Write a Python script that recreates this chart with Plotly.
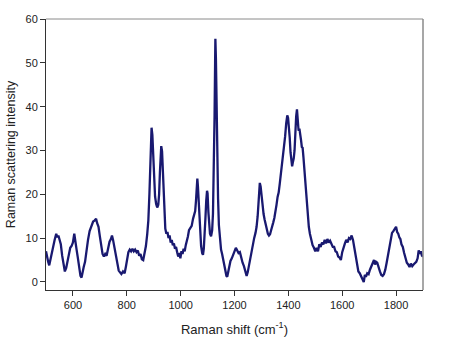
import plotly.graph_objects as go

# Raman spectrum: shift (cm^-1) and scattering intensity
shift_cm = [
    500, 504, 508, 512, 516, 520, 526, 532, 538, 542, 546, 550, 555, 560, 565, 570, 575, 580, 585, 590,
    595, 600, 605, 609, 614, 618, 623, 628, 632, 636, 640, 645, 650, 656, 662, 668, 675, 680, 686, 690,
    695, 700, 705, 710, 715, 720, 725, 730, 736, 741, 745, 749, 754, 760, 765, 770, 775, 780, 786, 792,
    797, 802, 806, 811, 816, 821, 826, 831, 836, 841, 846, 851, 856, 861, 866, 871, 876, 880, 884, 887,
    890, 892, 895, 898, 901, 905, 909, 913, 917, 920, 923, 926, 928, 931, 934, 937, 940, 943, 947, 951,
    955, 959, 963, 967, 971, 975, 979, 983, 987, 991, 995, 999, 1003, 1007, 1011, 1015, 1019, 1023, 1027, 1031,
    1036, 1041, 1046, 1050, 1054, 1057, 1060, 1062, 1064, 1067, 1070, 1073, 1076, 1080, 1083, 1086, 1089, 1092, 1095, 1098,
    1100, 1103, 1106, 1109, 1113, 1117, 1120, 1123, 1126, 1128, 1129, 1131, 1133, 1136, 1139, 1142, 1146, 1150, 1154, 1158,
    1162, 1166, 1170, 1173, 1177, 1181, 1185, 1190, 1195, 1200, 1205, 1210, 1215, 1220, 1225, 1230, 1235, 1240, 1245, 1249,
    1253, 1258, 1263, 1268, 1273, 1278, 1282, 1286, 1290, 1294, 1297, 1300, 1304, 1308, 1312, 1316, 1320, 1324, 1328, 1332,
    1336, 1340, 1344, 1348, 1352, 1356, 1360, 1364, 1368, 1372, 1376, 1380, 1384, 1388, 1392, 1396, 1399, 1402, 1405, 1408,
    1411, 1414, 1417, 1420, 1423, 1426, 1429, 1432, 1435, 1438, 1441, 1444, 1447, 1450, 1453, 1456, 1460, 1464, 1468, 1472,
    1476, 1480, 1485, 1490, 1495, 1500, 1505, 1510, 1515, 1520, 1525, 1530, 1535, 1540, 1545, 1550, 1555, 1560, 1565, 1570,
    1575, 1580, 1585, 1590, 1595, 1600, 1605, 1610, 1615, 1620, 1625, 1630, 1635, 1640, 1645, 1650, 1655, 1660, 1665, 1670,
    1675, 1680, 1684, 1688, 1693, 1698, 1703, 1708, 1713, 1718, 1722, 1726, 1730, 1735, 1740, 1745, 1750, 1755, 1760, 1765,
    1770, 1775, 1780, 1785, 1790, 1795, 1800, 1804, 1808, 1812, 1816, 1820, 1825, 1830, 1835, 1840, 1845, 1850, 1855, 1860,
    1865, 1870, 1875, 1880, 1884, 1888, 1892, 1896, 1900,
]

intensity = [
    7.0, 5.2, 4.6, 3.8, 5.0, 6.5, 8.4, 9.6, 11.0, 10.2, 10.6, 9.4, 8.6, 6.0, 3.8, 2.4, 3.2, 4.8, 6.6, 7.8,
    8.2, 9.0, 11.0, 8.8, 7.2, 5.6, 3.4, 1.4, 1.0, 2.6, 3.4, 4.6, 7.2, 9.6, 11.6, 12.8, 13.8, 14.0, 14.4, 13.4,
    12.6, 10.4, 8.2, 6.4, 5.8, 6.4, 6.0, 7.6, 9.2, 9.8, 10.6, 9.6, 8.0, 6.2, 4.2, 2.6, 2.2, 1.8, 2.4, 2.0,
    3.6, 5.6, 6.8, 7.4, 7.0, 7.6, 7.0, 7.4, 6.8, 7.2, 6.0, 6.4, 5.2, 5.0, 6.4, 8.2, 11.0, 14.0, 20.0, 27.0,
    33.0, 35.2, 33.5, 28.0, 22.5, 19.5, 17.8, 17.0, 17.6, 20.0, 25.0, 29.5, 31.0, 29.8, 25.5, 19.0, 14.5, 12.2, 11.0, 11.4,
    10.0, 10.6, 9.0, 9.6, 8.4, 8.8, 7.6, 8.0, 6.8, 5.8, 6.6, 5.4, 7.0, 6.4, 7.6, 7.0, 8.4, 9.2, 10.4, 11.8,
    12.2, 12.8, 14.4, 15.6, 16.2, 18.5, 21.5, 23.6, 22.0, 18.5, 14.0, 10.5, 8.2, 6.6, 6.2, 7.6, 10.2, 14.5, 18.5, 20.8,
    20.2, 16.0, 12.5, 11.0, 10.4, 11.8, 15.5, 24.0, 38.0, 50.0, 55.5, 51.0, 41.0, 28.0, 19.0, 13.0, 9.6, 7.4, 6.4, 5.0,
    4.4, 3.0, 1.4, 1.2, 2.6, 3.4, 4.8, 5.4, 6.4, 7.0, 7.8, 7.2, 6.6, 6.8, 5.4, 4.4, 3.6, 2.4, 1.4, 2.2,
    3.6, 5.2, 7.0, 8.6, 10.0, 11.2, 12.6, 15.0, 18.5, 22.6, 21.8, 19.8, 17.0, 15.5, 14.2, 13.0, 12.0, 11.0, 10.6, 10.9,
    11.8, 12.5, 13.6, 14.6, 15.8, 17.6, 19.4, 20.4, 22.4, 24.4, 26.0, 28.0, 30.2, 33.2, 36.2, 38.0, 37.4, 35.8, 33.0, 29.6,
    27.6, 26.4, 27.4, 28.2, 30.0, 34.6, 37.8, 39.4, 37.0, 34.5, 35.0, 32.6, 32.4, 30.8, 30.6, 28.5, 25.0, 22.0, 18.5, 15.2,
    12.6, 11.0, 9.6, 8.4, 7.8, 7.0, 7.8, 7.0, 8.6, 8.0, 9.0, 8.6, 9.6, 8.8, 9.8, 9.0, 9.4, 8.6, 8.0, 8.0,
    7.0, 6.8, 5.8, 5.6, 5.0, 6.8, 8.0, 8.8, 9.6, 9.0, 10.0, 9.8, 10.6, 9.6, 7.8, 5.6, 3.8, 2.4, 2.0, 1.4,
    0.8, 0.0, 1.6, 1.2, 2.0, 1.8, 2.8, 3.6, 4.6, 5.0, 4.0, 4.6, 4.4, 3.0, 2.4, 1.6, 1.4, 1.8, 2.8, 4.4,
    6.0, 7.6, 9.6, 11.2, 11.6, 12.2, 12.6, 11.4, 11.0, 10.2, 9.8, 8.6, 8.0, 6.6, 5.2, 4.4, 4.0, 3.4, 4.2, 3.6,
    4.0, 4.4, 4.6, 5.4, 7.2, 6.4, 7.0, 6.0, 5.8,
]

x_ticks = [600, 800, 1000, 1200, 1400, 1600, 1800]
y_ticks = [0, 10, 20, 30, 40, 50, 60]

line_color = "#191970"
font_family = "Liberation Sans, Arial, sans-serif"

fig = go.Figure()
fig.add_trace(go.Scatter(
    x=shift_cm, y=intensity, mode="lines",
    line=dict(color=line_color, width=2.3),
    showlegend=False, hoverinfo="skip",
))

# Gray frame on top and right edges of the plotting area
fig.add_shape(type="line", xref="paper", yref="paper", x0=0, x1=1, y0=1, y1=1,
              line=dict(color="#8a8a8a", width=1))
fig.add_shape(type="line", xref="paper", yref="paper", x0=1, x1=1, y0=0, y1=1,
              line=dict(color="#8a8a8a", width=1.5))

fig.update_layout(
    width=453, height=349,
    margin=dict(l=46, r=30, t=19, b=59),
    paper_bgcolor="white", plot_bgcolor="white",
    font=dict(family=font_family, size=11, color="#222222"),
    xaxis=dict(
        range=[500, 1900], tickvals=x_ticks, ticks="outside", ticklen=5, tickcolor="#333333",
        showline=True, linecolor="#333333", linewidth=1, showgrid=False, zeroline=False,
        tickfont=dict(size=11), automargin=False,
        title=dict(text="Raman shift (cm<sup>-1</sup>)", font=dict(size=13), standoff=14),
    ),
    yaxis=dict(
        range=[-1.83, 60], tickvals=y_ticks, ticks="outside", ticklen=5, tickcolor="#333333",
        showline=True, linecolor="#333333", linewidth=1, showgrid=False, zeroline=False,
        tickfont=dict(size=11), automargin=False,
        title=dict(text="Raman scattering intensity", font=dict(size=12.5), standoff=7),
    ),
)

fig.write_html("out.html")
